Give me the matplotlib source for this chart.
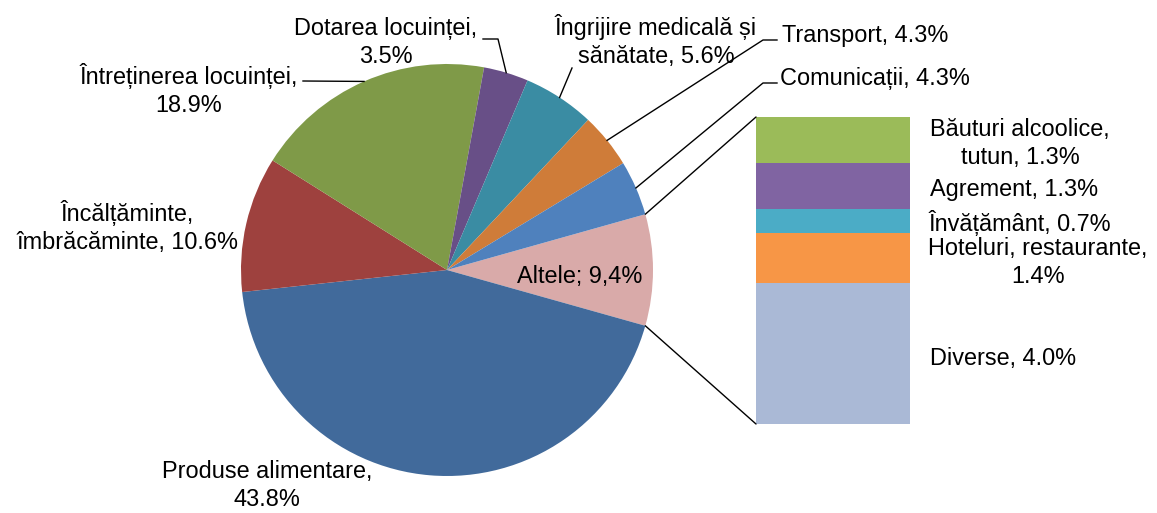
import matplotlib
matplotlib.use("Agg")
import matplotlib.pyplot as plt
from matplotlib.patches import ConnectionPatch
import numpy as np

plt.rcParams['font.family'] = ['Liberation Sans', 'DejaVu Sans']

# pie slices (clockwise after "Altele")
main_names = ["Produse alimentare", "Încălțăminte,\nîmbrăcăminte", "Întreținerea locuinței",
              "Dotarea locuinței", "Îngrijire medicală și\nsănătate", "Transport", "Comunicații"]
main_values = [43.8, 10.6, 18.9, 3.5, 5.6, 4.3, 4.3]
main_seps = [",\n", ", ", ",\n", ",\n", ", ", ", ", ", "]
main_colors = ["#416A9B", "#9E413E", "#7F9A48", "#684F87", "#3A8CA3", "#CF7C39", "#4F81BD"]

# "Altele" slice, broken out in the bar (bottom to top)
other_name = "Altele"
other_printed = "9,4%"
other_color = "#D9AAA9"
detail_names = ["Diverse", "Hoteluri, restaurante", "Învățământ", "Agrement", "Băuturi alcoolice,\ntutun"]
detail_values = [4.0, 1.4, 0.7, 1.3, 1.3]
detail_seps = [", ", ",\n", ", ", ", ", ", "]
detail_colors = ["#AAB9D6", "#F79646", "#4BACC6", "#8064A2", "#9BBB59"]

W, H = 1157, 513
FS = 16.9
GAP = 28

fig = plt.figure(figsize=(W / 100, H / 100), dpi=100)

# pie axes: center (447,270) px, radius 206 px
ax_pie = fig.add_axes([241 / W, 37 / H, 412 / W, 412 / H])
other_total = sum(detail_values)
pie_vals = [other_total] + main_values
pie_cols = [other_color] + main_colors
start = 180 * other_total / sum(pie_vals)
wedges, _ = ax_pie.pie(pie_vals, colors=pie_cols, startangle=start, counterclock=False,
                       radius=1, wedgeprops=dict(linewidth=0))
ax_pie.set_xlim(-1, 1)
ax_pie.set_ylim(-1, 1)
ax_pie.set_aspect('equal', adjustable='box')
ax_pie.axis('off')

# bar axes
ax_bar = fig.add_axes([756 / W, 89 / H, 154 / W, 307 / H])
bottoms = np.concatenate([[0], np.cumsum(detail_values)[:-1]])
ax_bar.bar(0, detail_values, bottom=bottoms, width=1, color=detail_colors, linewidth=0)
ax_bar.set_xlim(-0.5, 0.5)
ax_bar.set_ylim(0, other_total)
ax_bar.axis('off')

# connectors from "Altele" to the bar
w0 = wedges[0]
for ang, yb in [(w0.theta2, other_total), (w0.theta1, 0)]:
    a = np.deg2rad(ang)
    con = ConnectionPatch(xyA=(np.cos(a), np.sin(a)), coordsA=ax_pie.transData,
                          xyB=(-0.5, yb), coordsB=ax_bar.transData,
                          color='black', lw=1.0)
    fig.add_artist(con)

# overlay in pixel coordinates for labels and leaders
ov = fig.add_axes([0, 0, 1, 1], zorder=5)
ov.set_xlim(0, W)
ov.set_ylim(H, 0)
ov.axis('off')


def put_label(text, x, y, ha='center'):
    for i, line in enumerate(text.split("\n")):
        ov.text(x, y + i * GAP, line, ha=ha, va='baseline', fontsize=FS, color='black')


def pie_edge(w):
    a = np.deg2rad((w.theta1 + w.theta2) / 2)
    disp = ax_pie.transData.transform((np.cos(a), np.sin(a)))
    return ov.transData.inverted().transform(disp)


# label positions (x, first baseline, align) and leader elbows
main_pos = [(267, 478, 'center'), (127, 221, 'center'), (189, 84, 'center'),
            (386, 35, 'center'), (656, 35, 'center'), (782, 42, 'left'), (780, 85, 'left')]
main_leaders = [None, None, [(303, 81)], [(498, 39), (483, 39)], [(572, 68)],
                [(763, 40), (777, 40)], [(763, 83), (777, 83)]]

for i, (name, val, sep) in enumerate(zip(main_names, main_values, main_seps)):
    x, y, ha = main_pos[i]
    put_label(f"{name}{sep}{val:.1f}%", x, y, ha)
    if main_leaders[i]:
        ex, ey = pie_edge(wedges[i + 1])
        xs = [ex] + [p[0] for p in main_leaders[i]]
        ys = [ey] + [p[1] for p in main_leaders[i]]
        ov.plot(xs, ys, color='black', lw=1.0)

put_label(f"{other_name}; {other_printed}", 580, 283)

detail_pos = [(1003, 365), (1038, 255), (1020, 231), (1014, 196), (1020, 136)]
for (name, val, sep), (x, y) in zip(zip(detail_names, detail_values, detail_seps), detail_pos):
    put_label(f"{name}{sep}{val:.1f}%", x, y)

fig.savefig("out.png", dpi=100)
